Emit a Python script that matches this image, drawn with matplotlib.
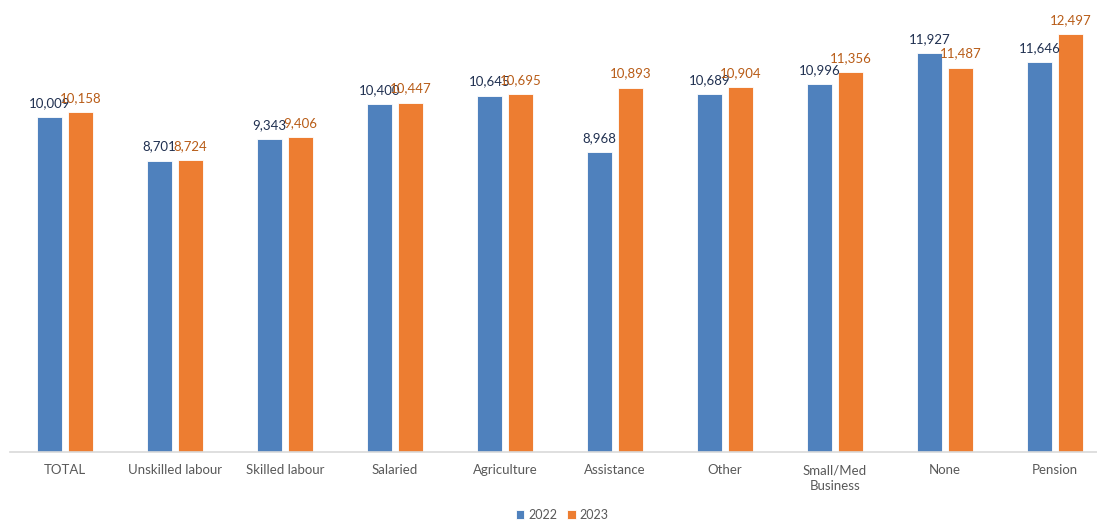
import matplotlib
matplotlib.use("Agg")
import matplotlib.pyplot as plt
import numpy as np

categories = ["TOTAL", "Unskilled labour", "Skilled labour", "Salaried", "Agriculture",
              "Assistance", "Other", "Small/Med\nBusiness", "None", "Pension"]
values_2022 = [10009, 8701, 9343, 10400, 10645, 8968, 10689, 10996, 11927, 11646]
values_2023 = [10158, 8724, 9406, 10447, 10695, 10893, 10904, 11356, 11487, 12497]
series_names = ["2022", "2023"]

plt.rcParams['font.family'] = ['Lato', 'DejaVu Sans']

W, H = 1097, 520
fig = plt.figure(figsize=(W / 100, H / 100), dpi=100)
# axes: x from 10px to 1110px, y zero at 452px, 14000 units -> 468px
ymax = 14000
px_per_unit = 418 / 12497
ax_h_px = ymax * px_per_unit
ax = fig.add_axes([10 / W, (H - 452) / H, 1100 / W, ax_h_px / H])

n = len(categories)
x = np.arange(n)
bw = 0.227
off = 0.141
blue = "#4F81BD"
orange = "#ED7D31"
b1 = ax.bar(x - off, values_2022, bw, color=blue, edgecolor="white", linewidth=0.6, label=series_names[0], zorder=2)
b2 = ax.bar(x + off, values_2023, bw, color=orange, edgecolor="white", linewidth=0.6, label=series_names[1], zorder=2)

for rect, v in zip(b1, values_2022):
    ax.annotate(f"{v:,}", (rect.get_x() + rect.get_width() / 2, v), xytext=(0, 6),
                textcoords="offset points", ha="center", va="bottom", fontsize=9.5, color="#203050")
for rect, v in zip(b2, values_2023):
    ax.annotate(f"{v:,}", (rect.get_x() + rect.get_width() / 2, v), xytext=(0, 6),
                textcoords="offset points", ha="center", va="bottom", fontsize=9.5, color="#B85C17")

ax.set_xlim(-0.5, n - 0.5)
ax.set_ylim(0, ymax)
ax.set_xticks(x)
ax.set_xticklabels(categories, fontsize=9.5, color="#595959", linespacing=1.4)
ax.tick_params(axis="x", length=0, pad=9)
ax.set_yticks([])
for s in ["top", "right", "left"]:
    ax.spines[s].set_visible(False)
ax.spines["bottom"].set_color("#D9D9D9")
ax.spines["bottom"].set_linewidth(1.2)
ax.patch.set_alpha(0)

fig.legend(handles=[b1, b2], labels=series_names, loc="center", bbox_to_anchor=(562 / W, 1 - 515 / H),
           ncol=2, frameon=False, fontsize=9, handlelength=0.7, handleheight=0.7,
           handletextpad=0.3, columnspacing=0.8, labelcolor="#595959")

fig.savefig("out.png", dpi=100)
